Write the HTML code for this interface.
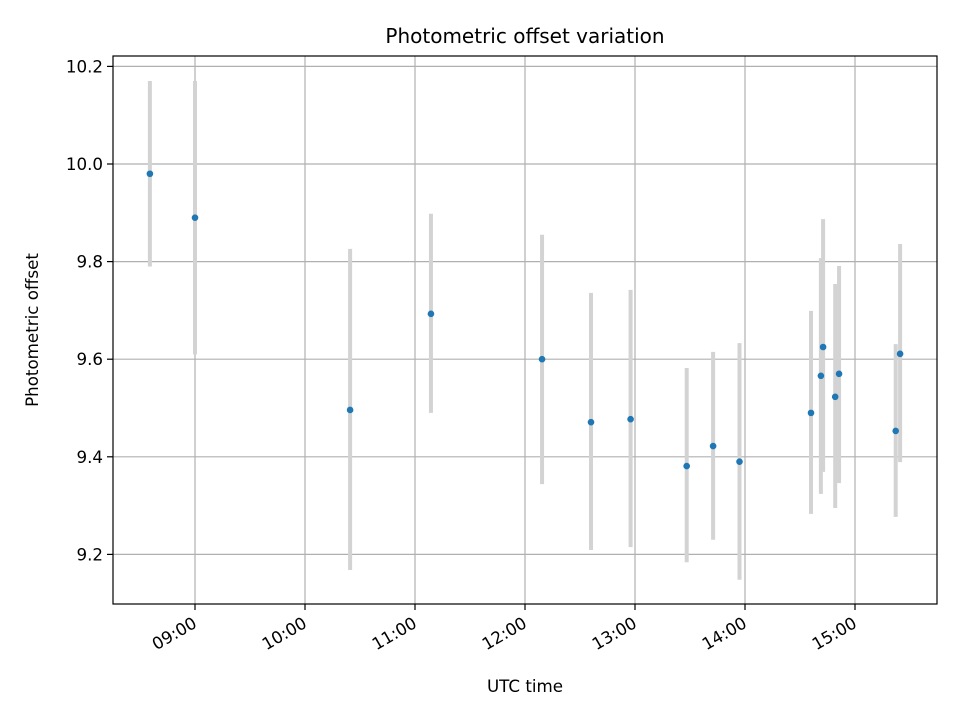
<!DOCTYPE html>
<html><head><meta charset="utf-8"><style>
html,body{margin:0;padding:0;background:#fff;}
svg{display:block;font-family:"DejaVu Sans","Liberation Sans",sans-serif;}
</style></head><body>
<svg id="chart" width="960" height="720" viewBox="0 0 960 720"></svg>
<script>
// data: time (hours UTC), offset, error bar low/high
const times = [8.59, 9.0, 10.41, 11.145, 12.155, 12.6, 12.96, 13.47, 13.71, 13.95, 14.6, 14.69, 14.71, 14.82, 14.855, 15.37, 15.41];
const offsets = [9.98, 9.89, 9.496, 9.693, 9.60, 9.471, 9.477, 9.381, 9.422, 9.39, 9.49, 9.566, 9.625, 9.523, 9.57, 9.453, 9.611];
const errLow = [9.79, 9.61, 9.168, 9.49, 9.344, 9.209, 9.215, 9.184, 9.23, 9.148, 9.283, 9.324, 9.369, 9.295, 9.346, 9.277, 9.389];
const errHigh = [10.17, 10.17, 9.826, 9.898, 9.855, 9.736, 9.742, 9.582, 9.615, 9.633, 9.699, 9.807, 9.887, 9.754, 9.791, 9.631, 9.836];
const yTicks = [9.2, 9.4, 9.6, 9.8, 10.0, 10.2];
const yTickLabels = ["9.2", "9.4", "9.6", "9.8", "10.0", "10.2"];
const xTicks = [9, 10, 11, 12, 13, 14, 15];
const xTickLabels = ["09:00", "10:00", "11:00", "12:00", "13:00", "14:00", "15:00"];

const L = 113, R = 937, T = 56, B = 604;
const xScale = h => 195 + (h - 9) * 110;
const yScale = v => 164 + (10 - v) * 488;
const NS = "http://www.w3.org/2000/svg";
const svg = document.getElementById("chart");
function mk(tag, attrs, parent) {
  const e = document.createElementNS(NS, tag);
  for (const k in attrs) e.setAttribute(k, attrs[k]);
  (parent || svg).appendChild(e);
  return e;
}
const grid = mk("g", {});


xTicks.forEach((t, i) => {
  const x = xScale(t);
  const gl = mk("line", {x1: x, x2: x, y1: T, y2: B, stroke: "#b0b0b0", "stroke-width": 1.2}, grid);
  
  
  const tk = mk("line", {x1: x, x2: x, y1: B, y2: B + 6, stroke: "#000", "stroke-width": 1.2});
  
  
  const tx = mk("text", {x: 0, y: 12, "font-size": 16.7, "text-anchor": "end", transform: `translate(${x - 3} ${B + 12}) rotate(-30)`});
  tx.textContent = xTickLabels[i];
  
  
});
yTicks.forEach((t, i) => {
  const y = yScale(t);
  const gl = mk("line", {x1: L, x2: R, y1: y, y2: y, stroke: "#b0b0b0", "stroke-width": 1.2}, grid);
  
  
  const tk = mk("line", {x1: L - 6, x2: L, y1: y, y2: y, stroke: "#000", "stroke-width": 1.2});
  
  
  const tx = mk("text", {x: L - 10, y: y + 6, "font-size": 16.7, "text-anchor": "end"});
  tx.textContent = yTickLabels[i];
  
  
});
times.forEach((t, i) => {
  const x = xScale(t);
  const eb = mk("line", {x1: x, x2: x, y1: yScale(errHigh[i]), y2: yScale(errLow[i]), stroke: "#d3d3d3", "stroke-width": 4});
  
  
});
times.forEach((t, i) => {
  const p = mk("circle", {cx: xScale(t), cy: yScale(offsets[i]), r: 3.3, fill: "#1f77b4"});
  
  
});
const frame = mk("rect", {x: L, y: T, width: R - L, height: B - T, fill: "none", stroke: "#000", "stroke-width": 1.2});


const title = mk("text", {x: (L + R) / 2, y: 43, "font-size": 20, "text-anchor": "middle"});
title.textContent = "Photometric offset variation";


const xt = mk("text", {x: (L + R) / 2, y: 692, "font-size": 16.7, "text-anchor": "middle"});
xt.textContent = "UTC time";


const yt = mk("text", {x: 38, y: (T + B) / 2, "font-size": 16.7, "text-anchor": "middle", transform: `rotate(-90 38 ${(T + B) / 2})`});
yt.textContent = "Photometric offset";


</script>
</body></html>
